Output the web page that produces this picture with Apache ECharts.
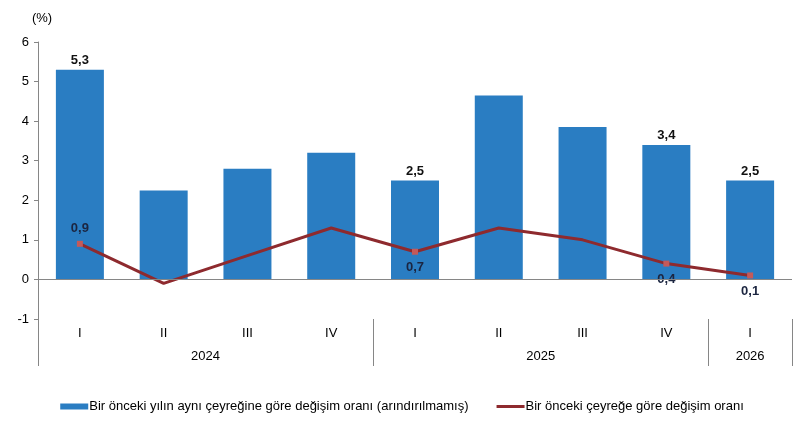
<!DOCTYPE html>
<html>
<head>
<meta charset="utf-8">
<script src="https://cdn.jsdelivr.net/npm/echarts@6/dist/echarts.min.js"></script>
<style>html,body{margin:0;padding:0;background:#fff}#c{width:804px;height:426px}</style>
</head>
<body>
<div id="c"></div>
<script>
var quarters = ['I','II','III','IV','I','II','III','IV','I'];
var years = ['2024','2025','2026'];
var quartersPerYear = [4, 4, 1];
var yearlyChange = [5.3, 2.25, 2.8, 3.2, 2.5, 4.65, 3.85, 3.4, 2.5];
var quarterlyChange = [0.9, -0.1, 0.6, 1.3, 0.7, 1.3, 1.0, 0.4, 0.1];
var barLabelled = [true, false, false, false, true, false, false, true, true];
var lineLabelPos = ['top', null, null, null, 'bottom', null, null, 'bottom', 'bottom'];
var seriesNames = ['Bir önceki yılın aynı çeyreğine göre değişim oranı (arındırılmamış)', 'Bir önceki çeyreğe göre değişim oranı'];
var yTicks = { min: -1, max: 6, interval: 1 };

var FONT = 'Liberation Sans, Arial, sans-serif';
var LINE_COLOR = '#8e2a2e';
function fmt(v){ return v.toFixed(1).replace('.', ','); }

var bounds = [0], centers = [];
quartersPerYear.forEach(function(n){ var s = bounds[bounds.length-1]; centers.push(s + n/2); bounds.push(s + n); });

var barData = yearlyChange.map(function(v, i){
  return { value: v, label: { show: barLabelled[i] } };
});
var lineData = quarterlyChange.map(function(v, i){
  var p = lineLabelPos[i];
  return { value: v, symbolSize: p ? 6 : 0, label: { show: !!p, position: p || 'top', distance: p === 'top' ? 6 : 6 } };
});

var chart = echarts.init(document.getElementById('c'));
chart.setOption({
  animation: false,
  textStyle: { fontFamily: FONT },
  grid: { left: 38, right: 12, top: 42, bottom: 107 },
  legend: {
    bottom: 8, left: 'center', itemGap: 28, itemWidth: 28, itemHeight: 6,
    textStyle: { fontFamily: FONT, fontSize: 13, color: '#000', padding: [0,0,0,-4] },
    data: [
      { name: seriesNames[0], icon: 'rect' },
      { name: seriesNames[1], icon: 'path://M0,0H28V3H0Z', itemStyle: { color: LINE_COLOR } }
    ]
  },
  xAxis: [
    {
      type: 'category', data: quarters, gridIndex: 0,
      axisLine: { show: false }, axisTick: { show: false },
      axisLabel: { margin: 8, fontSize: 13, color: '#000', fontFamily: FONT }
    },
    {
      type: 'value', min: 0, max: quarters.length, gridIndex: 0, position: 'bottom',
      axisLine: { show: false }, splitLine: { show: false },
      axisTick: { show: true, customValues: bounds, length: 47, lineStyle: { color: '#868686', width: 1 } },
      axisLabel: { customValues: centers, margin: 31, fontSize: 13, color: '#000', fontFamily: FONT,
        formatter: function(v){ var i = centers.indexOf(v); return i >= 0 ? years[i] : ''; } }
    }
  ],
  yAxis: {
    type: 'value', min: yTicks.min, max: yTicks.max, interval: yTicks.interval,
    name: '(%)', nameLocation: 'end', nameGap: 17,
    nameTextStyle: { fontSize: 13, color: '#000', align: 'center', padding: [0,0,0,8] },
    axisLine: { show: true, lineStyle: { color: '#868686' } },
    axisTick: { show: true, length: 4, lineStyle: { color: '#868686' } },
    splitLine: { show: false },
    axisLabel: { fontSize: 13, color: '#000', margin: 9, formatter: function(v){ return String(v); } }
  },
  series: [
    {
      name: seriesNames[0], type: 'bar', data: barData, barWidth: 48,
      itemStyle: { color: '#2a7dc2' },
      label: { position: 'top', distance: 3, fontSize: 13, fontWeight: 'bold', color: '#111', formatter: function(p){ return fmt(p.value); } },
      markLine: {
        silent: true, symbol: 'none', label: { show: false },
        lineStyle: { color: '#868686', type: 'solid', width: 1 },
        data: [{ yAxis: 0 }]
      },
      z: 2
    },
    {
      name: seriesNames[1], type: 'line', data: lineData,
      symbol: 'rect', showAllSymbol: true,
      lineStyle: { color: LINE_COLOR, width: 3 },
      itemStyle: { color: '#c45a5a' },
      label: { fontSize: 13, fontWeight: 'bold', color: '#1b2540', formatter: function(p){ return fmt(p.value); } },
      z: 3
    }
  ]
});
</script>
</body>
</html>
